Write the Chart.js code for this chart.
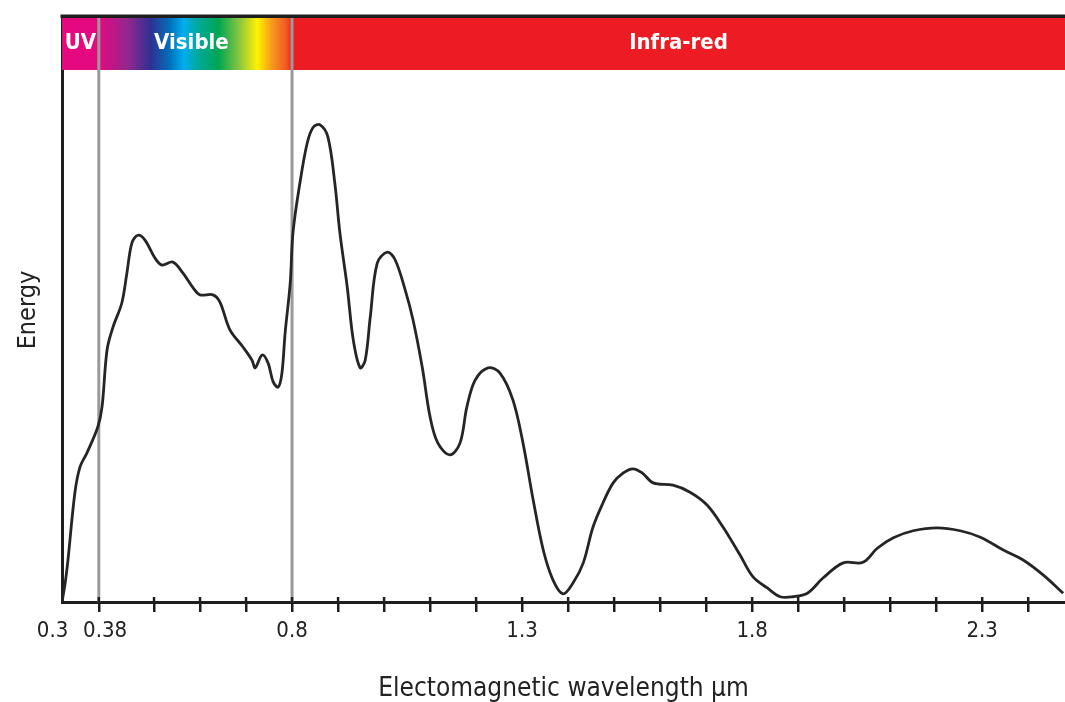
<!DOCTYPE html>
<html>
<head>
<meta charset="utf-8">
<style>
  html, body { margin: 0; padding: 0; background: #fff; }
  #chart { display: block; }
</style>
<script src="https://cdn.jsdelivr.net/npm/chart.js"></script>
</head>
<body>
<canvas id="chart" width="1065" height="702"></canvas>
<script>
// wavelength in µm, energy in arbitrary units (0 - 100 = full plot height)
var wavelength = [0.30, 0.307, 0.313, 0.328, 0.339, 0.354, 0.378, 0.387, 0.398, 0.411,
  0.430, 0.441, 0.452, 0.465, 0.480, 0.502, 0.517, 0.541, 0.563, 0.585,
  0.600, 0.628, 0.643, 0.665, 0.693, 0.713, 0.720, 0.735, 0.748, 0.759,
  0.770, 0.778, 0.785, 0.796, 0.802, 0.817, 0.833, 0.846, 0.861, 0.878,
  0.893, 0.904, 0.920, 0.933, 0.948, 0.959, 0.970, 0.985, 1.007, 1.024,
  1.046, 1.063, 1.083, 1.100, 1.117, 1.143, 1.165, 1.180, 1.198, 1.226,
  1.252, 1.280, 1.302, 1.324, 1.346, 1.367, 1.389, 1.411, 1.433, 1.454,
  1.476, 1.498, 1.520, 1.541, 1.561, 1.585, 1.628, 1.665, 1.702, 1.737,
  1.774, 1.802, 1.833, 1.861, 1.889, 1.920, 1.954, 1.998, 2.041, 2.072,
  2.107, 2.150, 2.202, 2.252, 2.296, 2.346, 2.389, 2.433, 2.476];
var energy = [0, 3.3, 7.2, 18.7, 23.1, 25.5, 30.0, 33.4, 43.2, 47.1,
  51.2, 56.3, 61.5, 62.8, 62.0, 58.9, 57.7, 58.2, 56.3, 53.8,
  52.6, 52.6, 51.4, 46.6, 43.7, 41.4, 40.1, 42.3, 40.9, 37.7,
  36.8, 39.2, 46.1, 54.6, 63.2, 71.7, 78.6, 81.3, 81.7, 79.6,
  71.7, 63.2, 53.9, 44.9, 40.1, 41.4, 48.8, 58.0, 59.9, 58.6,
  53.4, 48.3, 40.2, 31.7, 27.2, 25.2, 27.2, 33.4, 38.0, 40.1,
  39.2, 34.6, 27.2, 17.5, 8.9, 3.8, 1.4, 3.3, 6.7, 12.8,
  17.0, 20.4, 22.1, 22.8, 22.1, 20.4, 20.0, 18.8, 16.6, 12.8,
  8.0, 4.3, 2.4, 0.9, 0.9, 1.5, 4.1, 6.7, 6.8, 9.2,
  11.0, 12.2, 12.7, 12.2, 11.1, 8.9, 7.2, 4.6, 1.5];

var tickValues = [0.3, 0.38, 0.5, 0.6, 0.7, 0.8, 0.9, 1.0, 1.1, 1.2, 1.3,
  1.4, 1.5, 1.6, 1.7, 1.8, 1.9, 2.0, 2.1, 2.2, 2.3, 2.4];
var tickLabels = ['0.3', '0.38', '', '', '', '0.8', '', '', '', '', '1.3',
  '', '', '', '', '1.8', '', '', '', '', '2.3', ''];

var bandNames = ['UV', 'Visible', 'Infra-red'];
var bandEdges = [0.3, 0.38, 0.8, 2.48];

var FONT = "'Liberation Sans Narrow', 'DejaVu Sans Condensed', sans-serif";

var points = wavelength.map(function (w, i) { return { x: w, y: energy[i] }; });

// spectrum band on top, grey boundary lines, top border
var spectrumPlugin = {
  id: 'spectrum',
  beforeDatasetsDraw: function (chart) {
    var ctx = chart.ctx, area = chart.chartArea, xs = chart.scales.x;
    var top = area.top, h = 52;
    var e = bandEdges.map(function (v) { return xs.getPixelForValue(v); });
    e[3] = area.right;
    ctx.save();
    ctx.fillStyle = '#e5097f';
    ctx.fillRect(e[0], top, e[1] - e[0], h);
    var g = ctx.createLinearGradient(e[1], 0, e[2], 0);
    g.addColorStop(0.00, '#e5097f');
    g.addColorStop(0.15, '#92278f');
    g.addColorStop(0.27, '#2e3192');
    g.addColorStop(0.37, '#0072bc');
    g.addColorStop(0.44, '#00aeef');
    g.addColorStop(0.51, '#00a99d');
    g.addColorStop(0.62, '#00a651');
    g.addColorStop(0.73, '#8dc63f');
    g.addColorStop(0.82, '#fff200');
    g.addColorStop(0.90, '#f7941d');
    g.addColorStop(0.97, '#f15a24');
    g.addColorStop(1.00, '#ed1c24');
    ctx.fillStyle = g;
    ctx.fillRect(e[1], top, e[2] - e[1], h);
    ctx.fillStyle = '#ed1c24';
    ctx.fillRect(e[2], top, e[3] - e[2], h);

    ctx.fillStyle = '#fff';
    ctx.font = 'bold 22px ' + FONT;
    ctx.textAlign = 'center';
    ctx.textBaseline = 'middle';
    for (var i = 0; i < bandNames.length; i++) {
      var cx = (e[i] + e[i + 1]) / 2;
      if (i === 1) cx -= 4;
      ctx.fillText(bandNames[i], cx, top + 25);
    }

    // boundary lines
    ctx.strokeStyle = '#9a9a9a';
    ctx.lineWidth = 3;
    [e[1], e[2]].forEach(function (x) {
      ctx.beginPath();
      ctx.moveTo(x, top - 3);
      ctx.lineTo(x, area.bottom);
      ctx.stroke();
    });

    // top border
    ctx.fillStyle = '#1e1e1e';
    ctx.fillRect(area.left - 1.5, top - 3.5, area.right - area.left + 1.5, 3.5);
    ctx.restore();
  },
  afterDraw: function (chart) {
    // short tick stubs above the axis line
    var ctx = chart.ctx, area = chart.chartArea, xs = chart.scales.x;
    ctx.save();
    ctx.strokeStyle = '#1e1e1e';
    ctx.lineWidth = 2.5;
    xs.ticks.forEach(function (t, i) {
      if (i === 0) return;
      var x = xs.getPixelForValue(t.value);
      ctx.beginPath();
      ctx.moveTo(x, area.bottom - 5);
      ctx.lineTo(x, area.bottom);
      ctx.stroke();
    });
    ctx.restore();
  }
};

var chart = new Chart(document.getElementById('chart'), {
  type: 'line',
  data: {
    datasets: [{
      label: 'Energy',
      data: points,
      borderColor: '#252525',
      borderWidth: 2.8,
      pointRadius: 0,
      fill: false,
      tension: 0.35
    }]
  },
  options: {
    responsive: false,
    animation: false,
    layout: { padding: { top: 18, right: 0, left: 0, bottom: 0 } },
    plugins: {
      legend: { display: false },
      tooltip: { enabled: false }
    },
    scales: {
      x: {
        type: 'linear',
        min: 0.3,
        max: 2.48,
        afterBuildTicks: function (scale) {
          scale.ticks = tickValues.map(function (v) { return { value: v }; });
        },
        afterFit: function (scale) { scale.height = 100; },
        border: { display: true, color: '#1e1e1e', width: 3 },
        grid: {
          display: true,
          drawOnChartArea: false,
          drawTicks: true,
          tickLength: 10,
          lineWidth: 2.5,
          color: function (c) { return c.index === 0 ? 'rgba(0,0,0,0)' : '#1e1e1e'; }
        },
        ticks: {
          autoSkip: false,
          maxRotation: 0,
          padding: 6,
          color: '#222',
          font: { family: FONT, size: 22 },
          callback: function (value, index) {
            // nudge the two crowded labels apart, as in the original
            if (index === 0) return tickLabels[index] + '   ';
            if (index === 1) return '  ' + tickLabels[index];
            return tickLabels[index];
          }
        },
        title: {
          display: true,
          text: 'Electomagnetic wavelength µm',
          color: '#222',
          font: { family: FONT, size: 26, lineHeight: 1 },
          padding: { top: 0, bottom: 0 }
        }
      },
      y: {
        min: 0,
        max: 100,
        afterFit: function (scale) { scale.width = 62; },
        border: { display: true, color: '#1e1e1e', width: 3 },
        grid: { display: false },
        ticks: { display: false },
        title: {
          display: true,
          text: 'Energy',
          color: '#222',
          font: { family: FONT, size: 25, lineHeight: 1 },
          padding: { top: 16, bottom: 0 }
        }
      }
    }
  },
  plugins: [spectrumPlugin]
});
</script>
</body>
</html>
